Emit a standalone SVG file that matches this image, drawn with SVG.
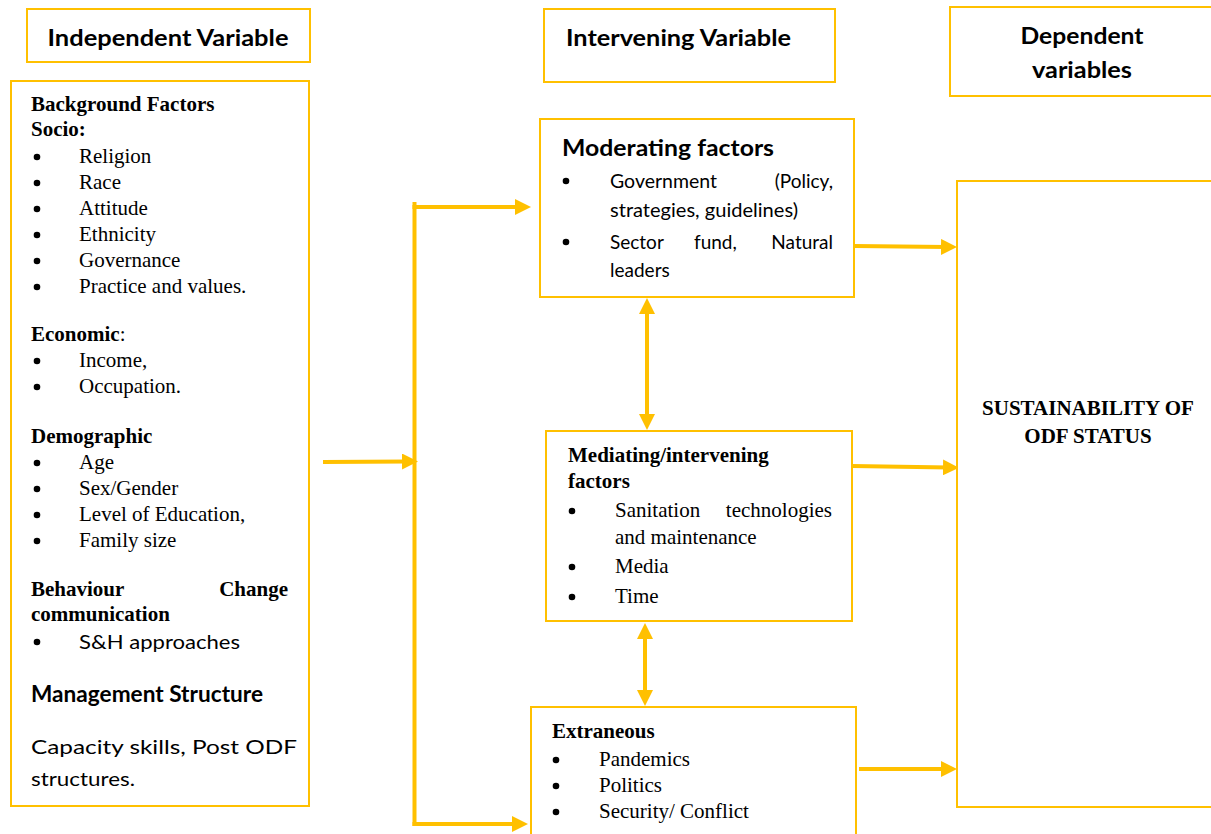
<svg xmlns="http://www.w3.org/2000/svg" width="1211" height="834" viewBox="0 0 1211 834">
<style>
.box{fill:#fff;stroke:#FFC000;stroke-width:2}
.con{fill:none;stroke:#FFC000;stroke-width:4}
.tr{font-family:"Liberation Serif","Times New Roman",serif;font-size:21px;fill:#000}
.trb{font-family:"Liberation Serif","Times New Roman",serif;font-size:21px;font-weight:bold;fill:#000}
.ca{font-family:Lato,"Open Sans",sans-serif;font-size:19px;fill:#000}
.cab{font-family:Lato,"Open Sans",sans-serif;font-size:22px;font-weight:bold;fill:#000}
.b{fill:#000}
</style>
<defs>
<marker id="ah" viewBox="0 0 16 16" refX="6" refY="8" markerWidth="16" markerHeight="16" markerUnits="userSpaceOnUse" orient="auto-start-reverse">
<path d="M0,0 L16,8 L0,16 z" fill="#FFC000"/>
</marker>
</defs>
<rect width="1211" height="834" fill="#fff"/>

<g id="connectors">
<path class="con" d="M323,462 L408,461.5" marker-end="url(#ah)"/>
<path class="con" d="M414.5,202 V826"/>
<path class="con" d="M412.5,207 H521" marker-end="url(#ah)"/>
<path class="con" d="M412.5,824 H518" marker-end="url(#ah)"/>
<path class="con" d="M647,308 V420" marker-start="url(#ah)" marker-end="url(#ah)"/>
<path class="con" d="M645,633 V696" marker-start="url(#ah)" marker-end="url(#ah)"/>
<path class="con" d="M854,246 L947,247" marker-end="url(#ah)"/>
<path class="con" d="M852,466 L949,467.5" marker-end="url(#ah)"/>
<path class="con" d="M859,769 H947" marker-end="url(#ah)"/>
</g>

<g id="hdr-independent">
<rect class="box" x="27" y="9" width="283" height="53"/>
<text class="cab" x="168" y="46" text-anchor="middle" textLength="241" lengthAdjust="spacingAndGlyphs">Independent Variable</text>
</g>

<g id="hdr-intervening">
<rect class="box" x="544" y="9" width="291" height="73"/>
<text class="cab" x="566" y="46" textLength="225" lengthAdjust="spacingAndGlyphs">Intervening Variable</text>
</g>

<g id="hdr-dependent">
<rect class="box" x="950" y="7" width="270" height="89"/>
<text class="cab" x="1082" y="44" text-anchor="middle" textLength="123" lengthAdjust="spacingAndGlyphs">Dependent</text>
<text class="cab" x="1082" y="78" text-anchor="middle" textLength="100" lengthAdjust="spacingAndGlyphs">variables</text>
</g>

<g id="independent">
<rect class="box" x="11" y="81" width="298" height="725"/>
<text class="trb" x="31" y="111">Background Factors</text>
<text class="trb" x="31" y="136">Socio:</text>
<circle class="b" cx="37" cy="157" r="3.3"/><text class="tr" x="79" y="163">Religion</text>
<circle class="b" cx="37" cy="183" r="3.3"/><text class="tr" x="79" y="189">Race</text>
<circle class="b" cx="37" cy="209" r="3.3"/><text class="tr" x="79" y="215">Attitude</text>
<circle class="b" cx="37" cy="235" r="3.3"/><text class="tr" x="79" y="241">Ethnicity</text>
<circle class="b" cx="37" cy="261" r="3.3"/><text class="tr" x="79" y="267">Governance</text>
<circle class="b" cx="37" cy="287" r="3.3"/><text class="tr" x="79" y="293">Practice and values.</text>
<text class="trb" x="31" y="341">Economic<tspan font-weight="normal">:</tspan></text>
<circle class="b" cx="37" cy="361" r="3.3"/><text class="tr" x="79" y="367">Income,</text>
<circle class="b" cx="37" cy="387" r="3.3"/><text class="tr" x="79" y="393">Occupation.</text>
<text class="trb" x="31" y="443">Demographic</text>
<circle class="b" cx="37" cy="463" r="3.3"/><text class="tr" x="79" y="469">Age</text>
<circle class="b" cx="37" cy="489" r="3.3"/><text class="tr" x="79" y="495">Sex/Gender</text>
<circle class="b" cx="37" cy="515" r="3.3"/><text class="tr" x="79" y="521">Level of Education,</text>
<circle class="b" cx="37" cy="541" r="3.3"/><text class="tr" x="79" y="547">Family size</text>
<text class="trb" x="31" y="596">Behaviour</text>
<text class="trb" x="288" y="596" text-anchor="end">Change</text>
<text class="trb" x="31" y="621">communication</text>
<circle class="b" cx="37" cy="642" r="3.3"/><text class="ca" x="79" y="649" font-size="20" textLength="161" lengthAdjust="spacingAndGlyphs">S&amp;H approaches</text>
<text class="cab" x="31" y="702" font-size="20" textLength="232" lengthAdjust="spacingAndGlyphs">Management Structure</text>
<text class="ca" x="31" y="754" font-size="20" textLength="266" lengthAdjust="spacingAndGlyphs">Capacity skills, Post ODF</text>
<text class="ca" x="31" y="786" font-size="20" textLength="104" lengthAdjust="spacingAndGlyphs">structures.</text>
</g>

<g id="moderating">
<rect class="box" x="540" y="119" width="314" height="178"/>
<text class="cab" x="562" y="156" textLength="212" lengthAdjust="spacingAndGlyphs">Moderating factors</text>
<circle class="b" cx="566" cy="181" r="3.3"/>
<text class="ca" x="610" y="188" textLength="107" lengthAdjust="spacingAndGlyphs">Government</text>
<text class="ca" x="833" y="188" text-anchor="end">(Policy,</text>
<text class="ca" x="610" y="217" textLength="188" lengthAdjust="spacingAndGlyphs">strategies, guidelines)</text>
<circle class="b" cx="566" cy="242" r="3.3"/>
<text class="ca" x="610" y="249">Sector</text>
<text class="ca" x="694" y="249">fund,</text>
<text class="ca" x="833" y="249" text-anchor="end">Natural</text>
<text class="ca" x="610" y="277">leaders</text>
</g>

<g id="mediating">
<rect class="box" x="546" y="431" width="306" height="190"/>
<text class="trb" x="568" y="462">Mediating/intervening</text>
<text class="trb" x="568" y="488">factors</text>
<circle class="b" cx="572" cy="511" r="3.3"/>
<text class="tr" x="615" y="517">Sanitation</text>
<text class="tr" x="832" y="517" text-anchor="end">technologies</text>
<text class="tr" x="615" y="544">and maintenance</text>
<circle class="b" cx="572" cy="567" r="3.3"/><text class="tr" x="615" y="573">Media</text>
<circle class="b" cx="572" cy="597" r="3.3"/><text class="tr" x="615" y="603">Time</text>
</g>

<g id="extraneous">
<rect class="box" x="531" y="707" width="325" height="140"/>
<text class="trb" x="552" y="738">Extraneous</text>
<circle class="b" cx="556" cy="760" r="3.3"/><text class="tr" x="599" y="766">Pandemics</text>
<circle class="b" cx="556" cy="786" r="3.3"/><text class="tr" x="599" y="792">Politics</text>
<circle class="b" cx="556" cy="812" r="3.3"/><text class="tr" x="599" y="818">Security/ Conflict</text>
</g>

<g id="dependent">
<rect class="box" x="957" y="181" width="270" height="626"/>
<text class="trb" x="1088" y="415" text-anchor="middle">SUSTAINABILITY OF</text>
<text class="trb" x="1088" y="443" text-anchor="middle">ODF STATUS</text>
</g>
</svg>
